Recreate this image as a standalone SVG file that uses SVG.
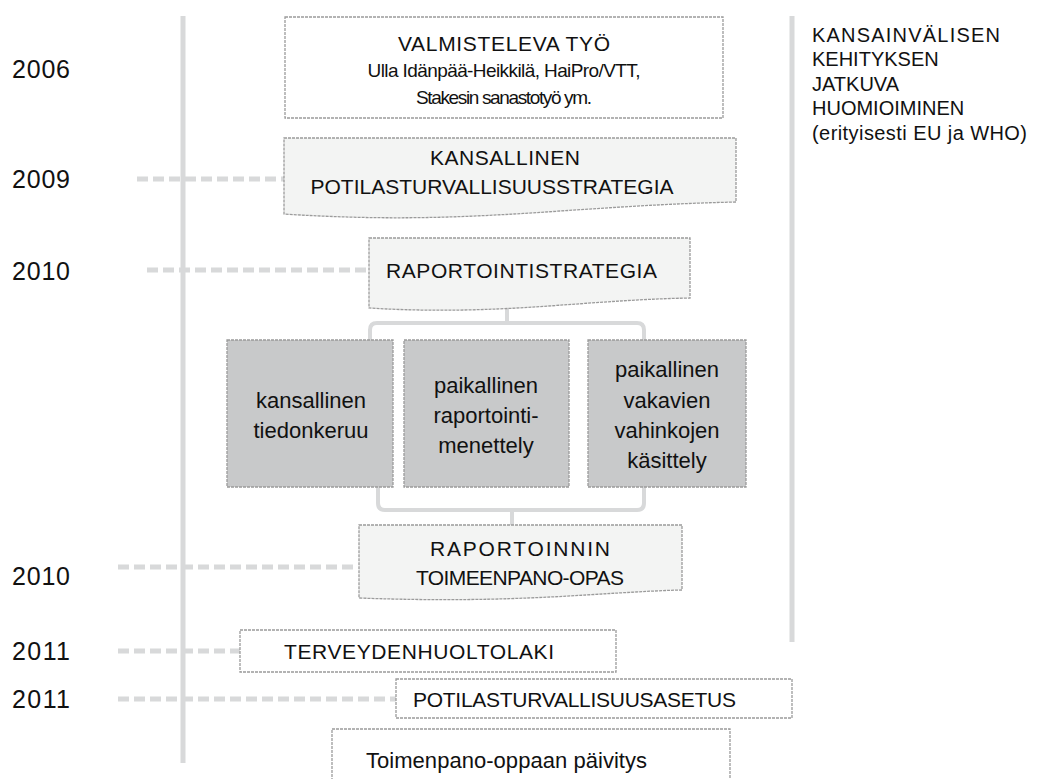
<svg xmlns="http://www.w3.org/2000/svg" width="1041" height="779" viewBox="0 0 1041 779">
  <style>
    text { font-family: "Liberation Sans", Arial, sans-serif; fill: #111; }
    .yr { font-size: 25px; }
    .cap { font-size: 21px; text-anchor: middle; }
    .caps { font-size: 21px; }
    .lc { font-size: 19px; text-anchor: middle; }
    .gl { font-size: 22px; text-anchor: middle; }
    .side { font-size: 20px; }
    .box { stroke: #9b9b9b; stroke-width: 1.3; stroke-dasharray: 3 1; }
    .white { fill: #ffffff; }
    .doc { fill: #f3f4f3; }
    .grey { fill: #c8c9ca; }
    .axis { stroke: #d8d9da; stroke-width: 5; fill: none; }
    .tick { stroke: #d8d9da; stroke-width: 5; stroke-dasharray: 11 5; fill: none; }
    .brace { stroke: #d8d9da; stroke-width: 4; fill: none; stroke-linejoin: round; }
  </style>

  <!-- timeline axes -->
  <g id="axes">
    <line class="axis" x1="183" y1="16" x2="183" y2="763"/>
    <line class="axis" x1="792" y1="16" x2="792" y2="642"/>
  </g>

  <!-- year ticks and bracket links -->
  <g id="connectors">
    <line class="tick" x1="137" y1="179" x2="284" y2="179"/>
    <line class="tick" x1="147" y1="270" x2="368" y2="270"/>
    <line class="tick" x1="118" y1="567" x2="358" y2="567"/>
    <line class="tick" x1="118" y1="651" x2="240" y2="651"/>
    <line class="tick" x1="118" y1="699" x2="396" y2="699"/>
    <!-- split from reporting strategy -->
    <path class="brace" d="M507,304 V323 M370,340 V330 Q370,323 377,323 H637 Q644,323 644,330 V340"/>
    <!-- merge into implementation guide -->
    <path class="brace" d="M378,487 V503 Q378,510 385,510 H637 Q644,510 644,503 V487 M512,510 V525"/>
  </g>

  <!-- years -->
  <g id="years">
    <text class="yr" x="12" y="78" textLength="58">2006</text>
    <text class="yr" x="12" y="188" textLength="58">2009</text>
    <text class="yr" x="12" y="280" textLength="58">2010</text>
    <text class="yr" x="12" y="585" textLength="58">2010</text>
    <text class="yr" x="12" y="660" textLength="58">2011</text>
    <text class="yr" x="12" y="708" textLength="58">2011</text>
  </g>

  <g id="valmisteleva">
    <rect class="box white" x="285" y="17" width="438" height="101"/>
    <text class="cap" x="504" y="51" textLength="212">VALMISTELEVA TYÖ</text>
    <text class="lc" x="504" y="77" textLength="273">Ulla Idänpää-Heikkilä, HaiPro/VTT,</text>
    <text class="lc" x="504" y="104" textLength="176">Stakesin sanastotyö ym.</text>
  </g>

  <g id="strategia">
    <path class="box doc" d="M284,138 H736 V202 C560,206 470,226 284,214 Z"/>
    <text class="cap" x="505" y="165" textLength="150">KANSALLINEN</text>
    <text class="cap" x="492" y="194" textLength="363">POTILASTURVALLISUUSSTRATEGIA</text>
  </g>

  <g id="raportointistrategia">
    <path class="box doc" d="M369,238 H690 V298 C580,300 500,316 369,308 Z"/>
    <text class="caps" x="386" y="278" textLength="271">RAPORTOINTISTRATEGIA</text>
  </g>

  <g id="tiedonkeruu">
    <rect class="box grey" x="227" y="340" width="166" height="147"/>
    <text class="gl" x="311" y="408">kansallinen</text>
    <text class="gl" x="311" y="438">tiedonkeruu</text>
  </g>

  <g id="menettely">
    <rect class="box grey" x="404" y="340" width="165" height="147"/>
    <text class="gl" x="486" y="393">paikallinen</text>
    <text class="gl" x="486" y="423">raportointi-</text>
    <text class="gl" x="486" y="453">menettely</text>
  </g>

  <g id="kasittely">
    <rect class="box grey" x="588" y="340" width="158" height="147"/>
    <text class="gl" x="667" y="377">paikallinen</text>
    <text class="gl" x="667" y="408">vakavien</text>
    <text class="gl" x="667" y="438">vahinkojen</text>
    <text class="gl" x="667" y="468">käsittely</text>
  </g>

  <g id="opas">
    <path class="box doc" d="M359,525 H682 V590 C600,592 520,604 359,598 Z"/>
    <text class="cap" x="520" y="556" textLength="180">RAPORTOINNIN</text>
    <text class="cap" x="520" y="585" textLength="208">TOIMEENPANO-OPAS</text>
  </g>

  <g id="terveydenhuoltolaki">
    <rect class="box white" x="240" y="630" width="376" height="42"/>
    <text class="caps" x="284" y="659" textLength="270">TERVEYDENHUOLTOLAKI</text>
  </g>

  <g id="asetus">
    <rect class="box white" x="396" y="679" width="396" height="39"/>
    <text class="caps" x="413" y="707" textLength="323">POTILASTURVALLISUUSASETUS</text>
  </g>

  <g id="paivitys">
    <rect class="box white" x="332" y="729" width="398" height="60"/>
    <text x="366" y="768" style="font-size:22px" textLength="281">Toimenpano-oppaan päivitys</text>
  </g>

  <g id="kansainvalinen">
    <text class="side" x="812" y="42" textLength="188">KANSAINVÄLISEN</text>
    <text class="side" x="812" y="66">KEHITYKSEN</text>
    <text class="side" x="812" y="91">JATKUVA</text>
    <text class="side" x="812" y="115">HUOMIOIMINEN</text>
    <text class="side" x="812" y="140" textLength="215">(erityisesti EU ja WHO)</text>
  </g>
</svg>
